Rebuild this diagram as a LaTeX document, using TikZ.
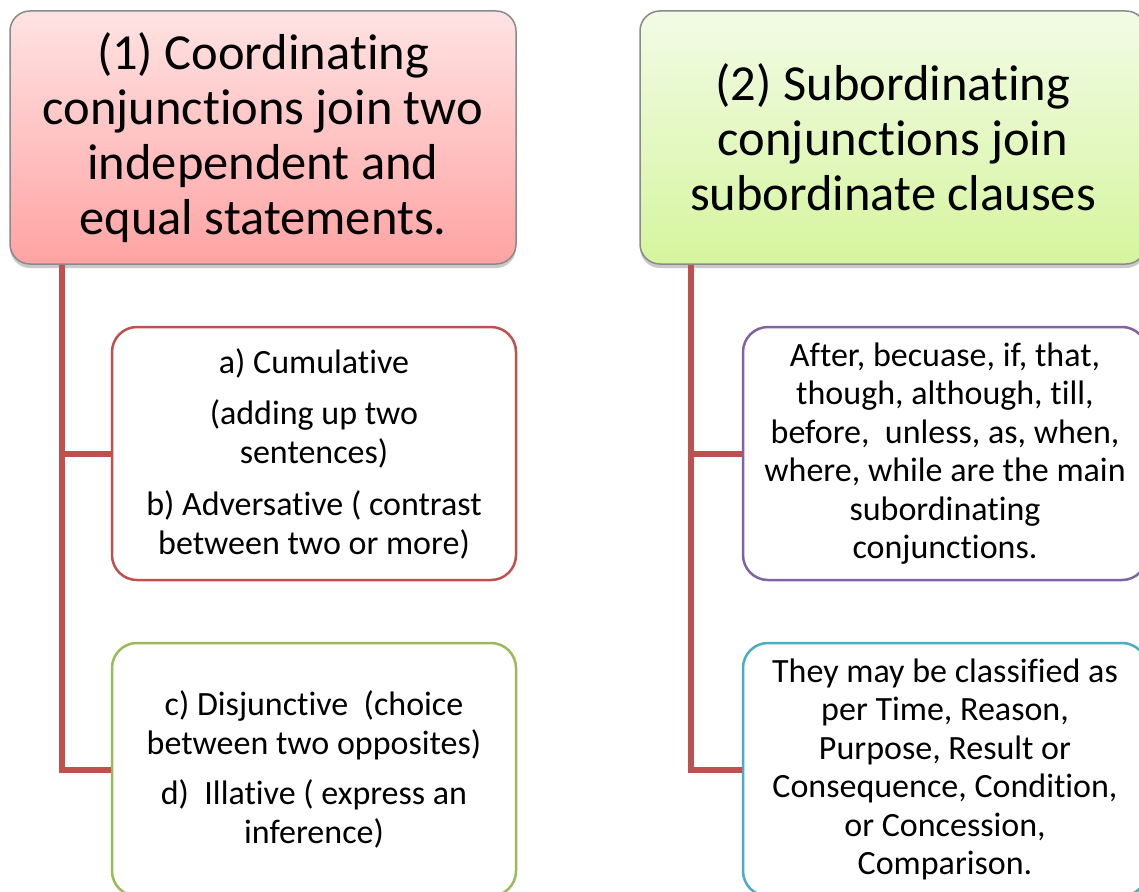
\documentclass[tikz,border=0pt]{standalone}
\usepackage{fontspec}
\setmainfont[Ligatures=NoCommon]{Carlito}
\usetikzlibrary{shadows}
\definecolor{connred}{HTML}{C0504D}
\definecolor{redtop}{HTML}{FFE3E3}
\definecolor{redbot}{HTML}{FFA3A3}
\definecolor{greentop}{HTML}{F2FBE6}
\definecolor{greenbot}{HTML}{D6F59E}
\definecolor{bordergray}{HTML}{8A8A8A}
\definecolor{boxred}{HTML}{C0504D}
\definecolor{boxgreen}{HTML}{9BBB59}
\definecolor{boxpurple}{HTML}{8064A2}
\definecolor{boxblue}{HTML}{4BACC6}
\tikzset{
  mainbox/.style={draw=bordergray, line width=1.5pt, rounded corners=20pt,
    minimum width=506pt, minimum height=253pt, inner sep=0pt, align=center,
    font=\fontsize{50.5}{55}\selectfont,
    drop shadow={opacity=0.35, fill=black!60, shadow xshift=0pt, shadow yshift=-4pt}},
  subbox/.style={draw, fill=white, line width=2.5pt, rounded corners=25pt,
    minimum width=404pt, minimum height=253pt, inner sep=0pt, align=center,
    font=\fontsize{34}{38.5}\selectfont},
  conn/.style={draw=connred, line width=6pt}
}
\begin{document}
\begin{tikzpicture}[x=1pt,y=-1pt]
\useasboundingbox (0,0) rectangle (1139,891);
\fill[white] (0,0) rectangle (1139,891);
\clip (0,0) rectangle (1139,891);

\node[mainbox, top color=redtop, bottom color=redbot] (t1) at (263,137.5)
  {(1) Coordinating\\ conjunctions join two\\ independent and\\ equal statements.};
\node[mainbox, top color=greentop, bottom color=greenbot] (t2) at (893,137.5)
  {(2) Subordinating\\ conjunctions join\\ subordinate clauses};

\node[subbox, draw=boxred] (a) at (314,453.5)
  {a) Cumulative\\[13pt] (adding up two\\ sentences)\\[14pt] b) Adversative ( contrast\\ between two or more)};
\node[subbox, draw=boxgreen] (c) at (314,769.5)
  {c) Disjunctive~~(choice\\ between two opposites)\\[12pt] d)~~Illative ( express an\\ inference)};
\node[subbox, draw=boxpurple] (p) at (945,453.5)
  {After, becuase, if, that,\\ though, although, till,\\ before,~~unless, as, when,\\ where, while are the main\\ subordinating\\ conjunctions.};
\node[subbox, draw=boxblue] (b) at (945,769.5)
  {They may be classified as\\ per Time, Reason,\\ Purpose, Result or\\ Consequence, Condition,\\ or Concession,\\ Comparison.};

\coordinate (l1) at ([xshift=53pt]t1.south west);
\coordinate (r1) at ([xshift=52pt]t2.south west);
\draw[conn] (l1) |- (a.west);
\draw[conn, line join=miter] (l1) |- (c.west);
\draw[conn] (r1) |- (p.west);
\draw[conn, line join=miter] (r1) |- (b.west);
\end{tikzpicture}
\end{document}
